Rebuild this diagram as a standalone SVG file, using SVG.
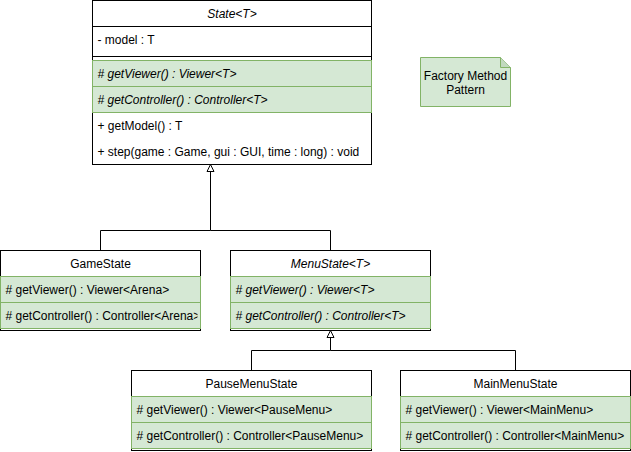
<svg xmlns="http://www.w3.org/2000/svg" width="631" height="452" viewBox="0 0 631 452">
<style>
text{font-family:"Liberation Sans",Arial,sans-serif;font-size:12px;fill:#000}
.c{text-anchor:middle}
.i{font-style:italic}
.box{fill:#fff;stroke:#000;stroke-width:1}
.g{fill:#d5e8d4;stroke:#82b366;stroke-width:1}
.ln{stroke:#000;stroke-width:1;fill:none}
.tri{fill:#fff;stroke:#000;stroke-width:1}
</style>
<defs>
<clipPath id="clipGame"><rect x="0" y="250" width="197.5" height="81"/></clipPath>
</defs>
<g id="connectors">
<path class="ln" d="M100.5 250.5 V230.5 H210.5 V171.5"/>
<path class="ln" d="M330.5 250.5 V230.5 H210.5"/>
<path class="tri" d="M210.5 164.5 L214 171.5 L207 171.5 Z"/>
<path class="ln" d="M251.5 370.5 V350.5 H330.5 V337.5"/>
<path class="ln" d="M515.5 370.5 V350.5 H330.5"/>
<path class="tri" d="M330.5 330.5 L334 337.5 L327 337.5 Z"/>
</g>
<g id="State">
<rect class="box" x="92.5" y="0.5" width="279" height="164"/>
<line class="ln" x1="92.5" y1="26.5" x2="371.5" y2="26.5"/>
<line class="ln" x1="92.5" y1="56.5" x2="371.5" y2="56.5"/>
<rect class="g" x="92.5" y="60.5" width="279" height="26"/>
<rect class="g" x="92.5" y="86.5" width="279" height="26"/>
<text class="c i" x="232" y="17.5">State&lt;T&gt;</text>
<text x="97.5" y="43.5">- model : T</text>
<text class="i" x="97.5" y="77.5"># getViewer() : Viewer&lt;T&gt;</text>
<text class="i" x="97.5" y="103.5"># getController() : Controller&lt;T&gt;</text>
<text x="97.5" y="129.5">+ getModel() : T</text>
<text x="97.5" y="155.5">+ step(game : Game, gui : GUI, time : long) : void</text>
</g>
<g id="note">
<path d="M420.5 57.5 H500.5 L510.5 67.5 V106.5 H420.5 Z" fill="#d5e8d4" stroke="#82b366"/>
<path d="M500.5 57.5 V67.5 H510.5" fill="#c1d9bf" stroke="#82b366"/>
<text class="c" x="465.5" y="80">Factory Method</text>
<text class="c" x="465.5" y="94">Pattern</text>
</g>
<g id="GameState">
<rect class="box" x="0.5" y="250.5" width="200" height="80"/>
<line class="ln" x1="0.5" y1="276.5" x2="200.5" y2="276.5"/>
<rect class="g" x="0.5" y="276.5" width="200" height="26"/>
<rect class="g" x="0.5" y="302.5" width="200" height="26"/>
<text class="c" x="100.5" y="267.5">GameState</text>
<g clip-path="url(#clipGame)">
<text x="5.5" y="293.5"># getViewer() : Viewer&lt;Arena&gt;</text>
<text x="5.5" y="319.5"># getController() : Controller&lt;Arena&gt;</text>
</g>
</g>
<g id="MenuState">
<rect class="box" x="230.5" y="250.5" width="200" height="80"/>
<line class="ln" x1="230.5" y1="276.5" x2="430.5" y2="276.5"/>
<rect class="g" x="230.5" y="276.5" width="200" height="26"/>
<rect class="g" x="230.5" y="302.5" width="200" height="26"/>
<text class="c i" x="330.5" y="267.5">MenuState&lt;T&gt;</text>
<text class="i" x="235.5" y="293.5"># getViewer() : Viewer&lt;T&gt;</text>
<text class="i" x="235.5" y="319.5"># getController() : Controller&lt;T&gt;</text>
</g>
<g id="PauseMenuState">
<rect class="box" x="131.5" y="370.5" width="240" height="80"/>
<line class="ln" x1="131.5" y1="396.5" x2="371.5" y2="396.5"/>
<rect class="g" x="131.5" y="396.5" width="240" height="26"/>
<rect class="g" x="131.5" y="422.5" width="240" height="26"/>
<text class="c" x="251.5" y="387.5">PauseMenuState</text>
<text x="136.5" y="413.5"># getViewer() : Viewer&lt;PauseMenu&gt;</text>
<text x="136.5" y="439.5"># getController() : Controller&lt;PauseMenu&gt;</text>
</g>
<g id="MainMenuState">
<rect class="box" x="400.5" y="370.5" width="230" height="80"/>
<line class="ln" x1="400.5" y1="396.5" x2="630.5" y2="396.5"/>
<rect class="g" x="400.5" y="396.5" width="230" height="26"/>
<rect class="g" x="400.5" y="422.5" width="230" height="26"/>
<text class="c" x="515.5" y="387.5">MainMenuState</text>
<text x="405.5" y="413.5"># getViewer() : Viewer&lt;MainMenu&gt;</text>
<text x="405.5" y="439.5"># getController() : Controller&lt;MainMenu&gt;</text>
</g>
</svg>
